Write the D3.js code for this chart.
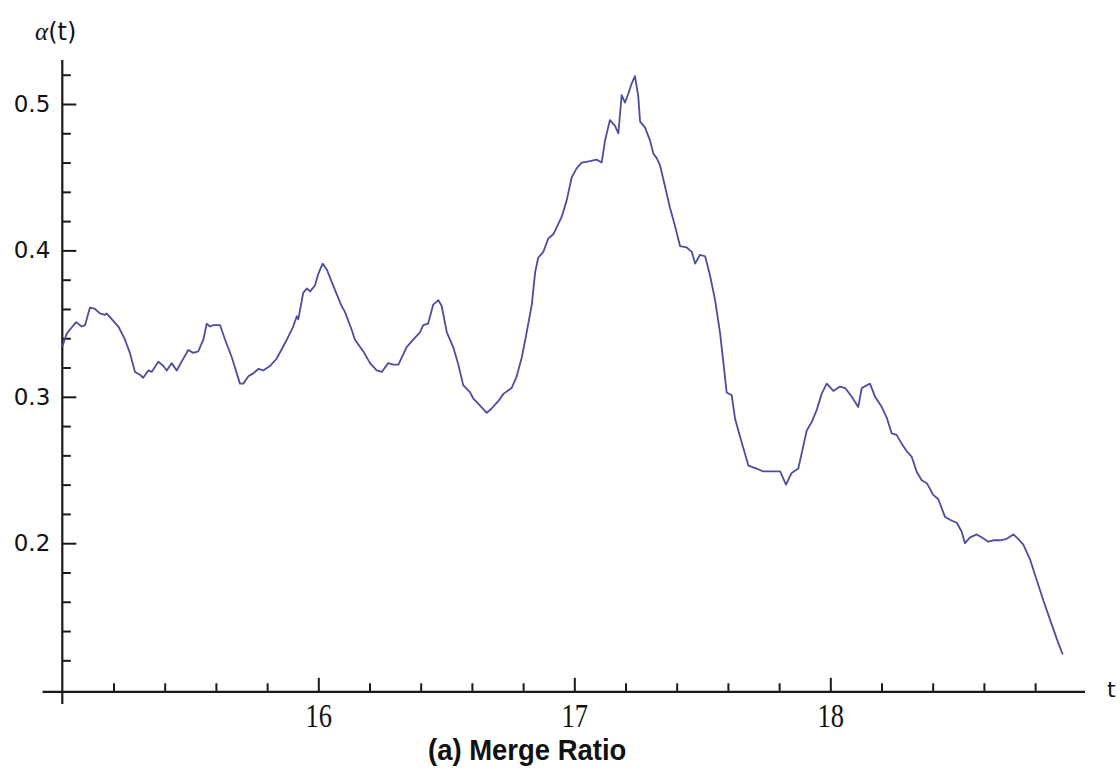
<!DOCTYPE html>
<html>
<head>
<meta charset="utf-8">
<script src="https://cdn.jsdelivr.net/npm/d3@7"></script>
<style>
  html, body { margin: 0; padding: 0; background: #fff; }
  svg { display: block; }
</style>
</head>
<body>
<svg id="chart" width="1120" height="774"></svg>
<script>
// Merge ratio α(t) sampled along t
const tValues = [
  15.000, 15.007, 15.017, 15.030, 15.054, 15.076, 15.089, 15.108, 15.128, 15.147,
  15.167, 15.173, 15.193, 15.219, 15.245, 15.264, 15.284, 15.304, 15.316, 15.336,
  15.349, 15.375, 15.395, 15.408, 15.427, 15.447, 15.466, 15.492, 15.512, 15.531,
  15.551, 15.564, 15.577, 15.590, 15.616, 15.636, 15.662, 15.694, 15.707, 15.727,
  15.746, 15.766, 15.785, 15.811, 15.837, 15.877, 15.902, 15.916, 15.922, 15.941,
  15.955, 15.968, 15.987, 16.000, 16.017, 16.033, 16.065, 16.091, 16.104, 16.130,
  16.143, 16.176, 16.202, 16.228, 16.248, 16.273, 16.293, 16.313, 16.345, 16.371,
  16.397, 16.410, 16.429, 16.449, 16.469, 16.482, 16.502, 16.527, 16.547, 16.566,
  16.593, 16.605, 16.632, 16.658, 16.677, 16.703, 16.723, 16.755, 16.775, 16.795,
  16.814, 16.834, 16.847, 16.859, 16.879, 16.898, 16.918, 16.951, 16.970, 16.990,
  17.009, 17.029, 17.061, 17.087, 17.107, 17.120, 17.139, 17.159, 17.172, 17.185,
  17.198, 17.211, 17.224, 17.237, 17.250, 17.257, 17.276, 17.296, 17.309, 17.322,
  17.335, 17.354, 17.374, 17.393, 17.413, 17.439, 17.459, 17.472, 17.491, 17.511,
  17.530, 17.550, 17.569, 17.582, 17.595, 17.615, 17.628, 17.647, 17.667, 17.680,
  17.712, 17.738, 17.777, 17.804, 17.827, 17.849, 17.875, 17.894, 17.908, 17.928,
  17.947, 17.966, 17.986, 18.012, 18.038, 18.058, 18.084, 18.109, 18.123, 18.155,
  18.175, 18.201, 18.220, 18.240, 18.259, 18.279, 18.298, 18.318, 18.337, 18.357,
  18.377, 18.402, 18.422, 18.448, 18.467, 18.494, 18.513, 18.526, 18.546, 18.572,
  18.591, 18.617, 18.637, 18.663, 18.689, 18.715, 18.734, 18.754, 18.780, 18.806,
  18.832, 18.858, 18.884, 18.908
];
const ratioValues = [
  0.334, 0.338, 0.343, 0.346, 0.351, 0.348, 0.349, 0.361, 0.360, 0.357,
  0.356, 0.357, 0.353, 0.348, 0.339, 0.330, 0.317, 0.315, 0.313, 0.318,
  0.317, 0.324, 0.321, 0.318, 0.323, 0.318, 0.324, 0.332, 0.330, 0.331,
  0.339, 0.350, 0.348, 0.349, 0.349, 0.339, 0.327, 0.309, 0.309, 0.314,
  0.316, 0.319, 0.318, 0.321, 0.326, 0.339, 0.348, 0.355, 0.353, 0.371,
  0.374, 0.372, 0.376, 0.384, 0.391, 0.387, 0.373, 0.362, 0.358, 0.346,
  0.339, 0.331, 0.323, 0.318, 0.317, 0.323, 0.322, 0.322, 0.334, 0.339,
  0.344, 0.349, 0.350, 0.363, 0.366, 0.362, 0.344, 0.334, 0.322, 0.308,
  0.303, 0.299, 0.294, 0.289, 0.292, 0.297, 0.302, 0.306, 0.314, 0.327,
  0.344, 0.363, 0.385, 0.395, 0.399, 0.408, 0.411, 0.423, 0.434, 0.450,
  0.456, 0.460, 0.461, 0.462, 0.460, 0.475, 0.489, 0.485, 0.480, 0.506,
  0.501, 0.507, 0.514, 0.519, 0.505, 0.488, 0.484, 0.475, 0.466, 0.463,
  0.458, 0.444, 0.429, 0.417, 0.403, 0.402, 0.399, 0.391, 0.397, 0.396,
  0.383, 0.366, 0.344, 0.324, 0.303, 0.301, 0.285, 0.273, 0.261, 0.253,
  0.251, 0.249, 0.249, 0.249, 0.240, 0.248, 0.251, 0.266, 0.277, 0.283,
  0.291, 0.302, 0.309, 0.304, 0.307, 0.306, 0.300, 0.293, 0.306, 0.309,
  0.300, 0.293, 0.286, 0.275, 0.274, 0.268, 0.263, 0.259, 0.249, 0.243,
  0.241, 0.233, 0.230, 0.218, 0.216, 0.214, 0.208, 0.200, 0.204, 0.206,
  0.204, 0.201, 0.202, 0.202, 0.203, 0.206, 0.203, 0.199, 0.189, 0.175,
  0.161, 0.148, 0.135, 0.124
];

// Tick positions and labels
const xMajorTicks = [16, 17, 18];
const xMinorTicks = [15.2, 15.4, 15.6, 15.8, 16.2, 16.4, 16.6, 16.8, 17.2, 17.4, 17.6, 17.8, 18.2, 18.4, 18.6, 18.8];
const yMajorTicks = [0.2, 0.3, 0.4, 0.5];
const yMinorTicks = [0.12, 0.14, 0.16, 0.18, 0.22, 0.24, 0.26, 0.28, 0.32, 0.34, 0.36, 0.38, 0.42, 0.44, 0.46, 0.48, 0.52];

const axisOriginT = 15;
const axisOriginV = 0.0985;
const xAxisExtent = [14.923, 18.995];
const yAxisExtent = [0.0902, 0.530];

const titleText = "(a) Merge Ratio";

const svg = d3.select("#chart");

const x = d3.scaleLinear().domain([15, 19]).range([62.3, 62.3 + 4 * 256]);
const y = d3.scaleLinear().domain([0.1, 0.5]).range([689.6, 104]);

const axisColor = "#1a1a1a";

// Axis lines
svg.append("line")
  .attr("x1", x(xAxisExtent[0])).attr("x2", x(xAxisExtent[1]))
  .attr("y1", y(axisOriginV)).attr("y2", y(axisOriginV))
  .attr("stroke", axisColor).attr("stroke-width", 2.2);
svg.append("line")
  .attr("x1", x(axisOriginT)).attr("x2", x(axisOriginT))
  .attr("y1", y(yAxisExtent[0])).attr("y2", y(yAxisExtent[1]))
  .attr("stroke", axisColor).attr("stroke-width", 2.2);

function styleAxis(g) {
  g.select(".domain").remove();
  g.selectAll(".tick line").attr("stroke", axisColor).attr("stroke-width", 2);
}

// X axis: minor then major ticks
svg.append("g")
  .attr("transform", `translate(0,${y(axisOriginV)})`)
  .call(d3.axisBottom(x).tickValues(xMinorTicks).tickSizeInner(-8.5).tickSizeOuter(0).tickFormat(""))
  .call(styleAxis);

const gx = svg.append("g")
  .attr("transform", `translate(0,${y(axisOriginV)})`)
  .call(d3.axisBottom(x).tickValues(xMajorTicks).tickSizeInner(-14).tickSizeOuter(0)
    .tickPadding(11.5).tickFormat(d3.format("d")))
  .call(styleAxis);
gx.selectAll(".tick text")
  .attr("fill", "#111")
  .style("font-family", "'Liberation Serif', 'Times New Roman', serif")
  .style("font-size", "33px")
  .attr("transform", "scale(0.8,1)");

// Y axis: minor then major ticks
svg.append("g")
  .attr("transform", `translate(${x(axisOriginT)},0)`)
  .call(d3.axisLeft(y).tickValues(yMinorTicks).tickSizeInner(-8.5).tickSizeOuter(0).tickFormat(""))
  .call(styleAxis);

const gy = svg.append("g")
  .attr("transform", `translate(${x(axisOriginT)},0)`)
  .call(d3.axisLeft(y).tickValues(yMajorTicks).tickSizeInner(-14).tickSizeOuter(0)
    .tickPadding(12).tickFormat(d3.format(".1f")))
  .call(styleAxis);
gy.selectAll(".tick text")
  .attr("fill", "#111")
  .style("font-family", "'DejaVu Sans', sans-serif")
  .style("font-size", "23px");

// Axis labels
const yLabel = svg.append("text")
  .attr("x", 35).attr("y", 40)
  .attr("fill", "#111");
yLabel.append("tspan")
  .style("font-family", "'Liberation Serif', serif")
  .style("font-style", "italic")
  .style("font-size", "25px")
  .text("α");
yLabel.append("tspan")
  .style("font-family", "'DejaVu Sans', sans-serif")
  .style("font-size", "24px")
  .text("(t)");

svg.append("text")
  .attr("x", 1107).attr("y", 697)
  .attr("fill", "#111")
  .style("font-family", "'DejaVu Sans', sans-serif")
  .style("font-size", "22px")
  .text("t");

// Data line
const data = tValues.map((t, i) => ({ t, v: ratioValues[i] }));
const line = d3.line().x(d => x(d.t)).y(d => y(d.v));
svg.append("path")
  .datum(data)
  .attr("d", line)
  .attr("fill", "none")
  .attr("stroke", "#4d4da0")
  .attr("stroke-width", 1.8)
  .attr("stroke-linejoin", "round");

// Caption
svg.append("text")
  .attr("transform", "translate(428,760) scale(0.947,1)")
  .attr("fill", "#111")
  .style("font-family", "'Liberation Sans', Arial, sans-serif")
  .style("font-weight", "bold")
  .style("font-size", "29px")
  .text(titleText);
</script>
</body>
</html>
